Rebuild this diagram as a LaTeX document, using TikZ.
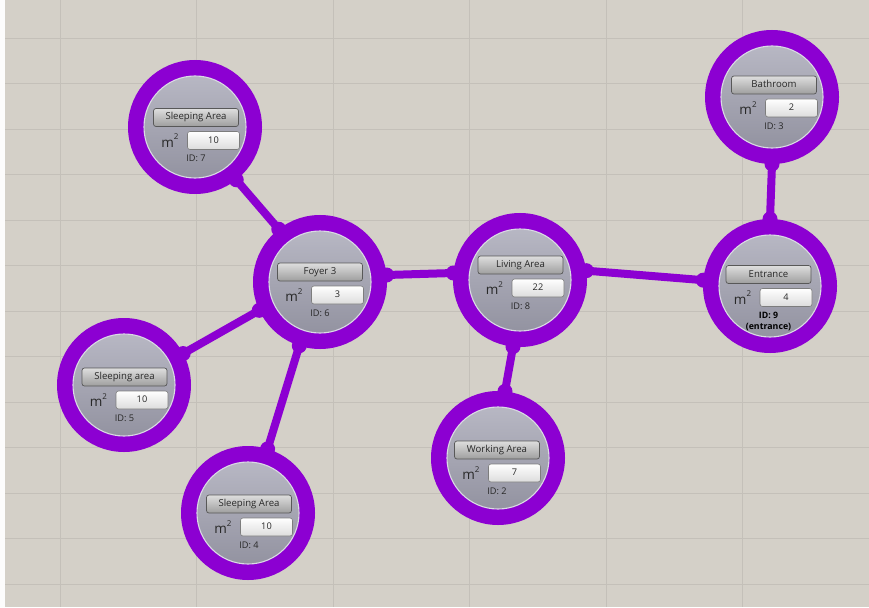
\documentclass[tikz,border=0pt]{standalone}
\usepackage{fontspec}
\setmainfont{Open Sans}
\definecolor{bgc}{RGB}{212,208,200}
\definecolor{gridc}{RGB}{196,192,185}
\definecolor{ringc}{RGB}{140,0,210}
\definecolor{disctop}{RGB}{186,186,198}
\definecolor{discbot}{RGB}{144,144,158}
\definecolor{rimc}{RGB}{218,218,228}
\definecolor{btntop}{RGB}{222,222,222}
\definecolor{btnbot}{RGB}{158,158,158}
\definecolor{btnedge}{RGB}{88,88,88}
\definecolor{txtc}{RGB}{40,40,40}
\definecolor{valbot}{RGB}{220,220,220}
\definecolor{valedge}{RGB}{125,125,125}
\tikzset{
  room/.style={circle, draw=ringc, line width=16pt, minimum size=118pt, inner sep=0pt,
               top color=disctop, bottom color=discbot},
  rim/.style={draw=rimc, line width=1.1pt},
  hdr/.style={rectangle, rounded corners=2.5pt, draw=btnedge, line width=0.7pt,
              top color=btntop, bottom color=btnbot, minimum width=85pt, minimum height=18pt,
              inner sep=0pt, text=txtc, font=\fontsize{9.6}{11}\selectfont,
              text height=7pt, text depth=2pt},
  valbox/.style={rectangle, rounded corners=2.5pt, draw=valedge, line width=0.6pt,
              top color=white, bottom color=valbot, minimum width=52pt, minimum height=18pt,
              inner sep=0pt, text=txtc, font=\fontsize{9.2}{11}\selectfont,
              text height=7pt, text depth=2pt},
  sqm/.style={inner sep=0pt, text=txtc, font=\fontsize{13.5}{14}\selectfont},
  idtxt/.style={inner sep=0pt, text=txtc, font=\fontsize{9.2}{11}\selectfont},
  conn/.style={draw=ringc, line width=8pt},
  knob/.style={fill=ringc},
}
\newcommand{\roomnode}[8]{%
  \node[room] (n#1) at (#2,#3) {};
  \draw[rim] (n#1.center) circle[radius=51];
  \node[hdr] (h#1) at (#4,#5) {#6};
  \node[valbox] (v#1) at (#4+17.5,#5+23) {#7};
  \node[sqm] (m#1) at (#4-26,#5+23) {m\raisebox{0.55em}{\fontsize{8}{8}\selectfont 2}};
  \node[idtxt] (i#1) at (#4,#5+41) {#8};
}
\newcommand{\link}[4]{%
  \draw[conn] (n#1.#2) -- (n#3.#4);
  \fill[knob] (n#1.#2) circle[radius=7.5];
  \fill[knob] (n#3.#4) circle[radius=7.5];
}
\begin{document}
\begin{tikzpicture}[x=1pt,y=-1pt]
  \useasboundingbox (0,0) rectangle (869,607);
  \fill[bgc] (0,0) rectangle (869,607);
  \fill[white!94!bgc] (0,0) rectangle (5,607);
  \foreach \k in {0,...,12} {\draw[gridc, line width=0.8pt] (5,38+45.5*\k) -- (869,38+45.5*\k);}
  \foreach \k in {0,...,5} {\draw[gridc, line width=0.8pt] (60+136.5*\k,0) -- (60+136.5*\k,607);}

  \roomnode{7}{195}{127}{196}{117.5}{Sleeping Area}{10}{ID: 7}
  \roomnode{6}{320}{282}{320}{272}{Foyer 3}{3}{ID: 6}
  \roomnode{8}{520}{280}{520.5}{265}{Living Area}{22}{ID: 8}
  \roomnode{3}{772}{97}{774}{85}{Bathroom}{2}{ID: 3}
  \roomnode{5}{124}{385}{124.5}{377}{Sleeping area}{10}{ID: 5}
  \roomnode{4}{248}{513}{249}{504}{Sleeping Area}{10}{ID: 4}
  \roomnode{2}{498}{458}{497}{450}{Working Area}{7}{ID: 2}
  % Entrance (special ID text)
  \node[room] (n9) at (770,286) {};
  \draw[rim] (n9.center) circle[radius=51];
  \node[hdr] (h9) at (768.5,274.5) {Entrance};
  \node[valbox] (v9) at (786,297.5) {4};
  \node[sqm] (m9) at (742.5,297.5) {m\raisebox{0.55em}{\fontsize{8}{8}\selectfont 2}};
  \node[idtxt, text=black, align=center, font=\fontsize{8.8}{10.5}\selectfont\bfseries] (i9) at (768.5,321.5) {ID: 9\\(entrance)};

  \link{7}{-52}{6}{128}
  \link{6}{6}{8}{174}
  \link{8}{8}{9}{175}
  \link{8}{-96}{2}{84}
  \link{9}{90}{3}{-90}
  \link{6}{205}{5}{28}
  \link{6}{252}{4}{73}
\end{tikzpicture}
\end{document}
